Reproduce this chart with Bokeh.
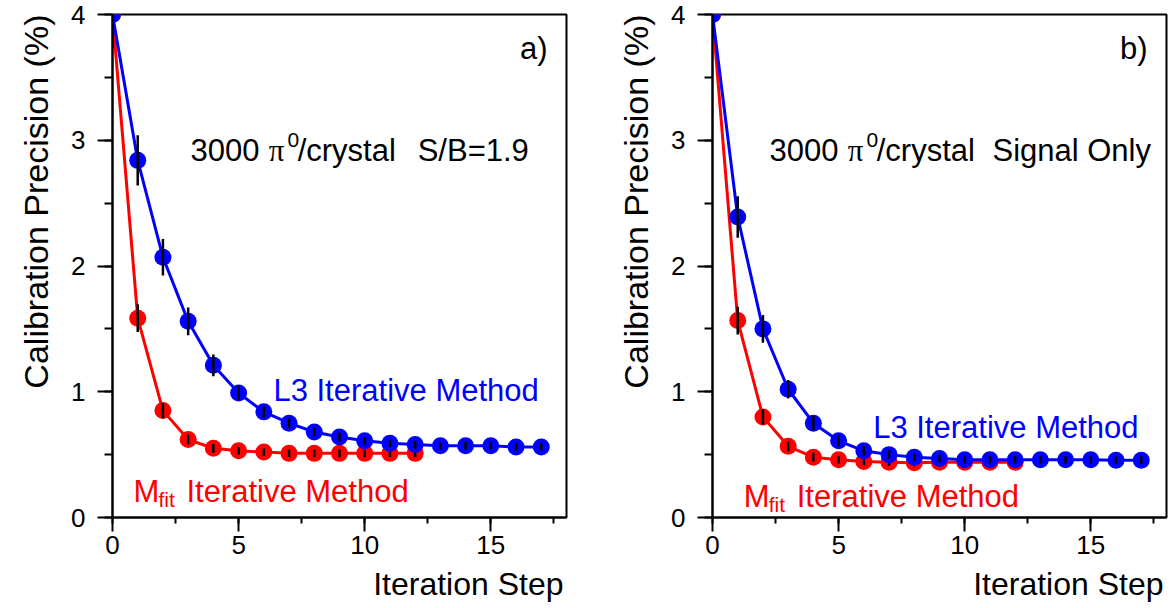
from bokeh.plotting import figure
from bokeh.models import Range1d, SingleIntervalTicker, Label, Title
from bokeh.layouts import row
from bokeh.embed import file_html
from bokeh.resources import INLINE

# ---------------- data ----------------
steps_l3 = list(range(18))
steps_mfit = list(range(13))

# panel a) 3000 pi0/crystal, S/B = 1.9
a_l3 = [4.00, 2.84, 2.07, 1.56, 1.21, 0.99, 0.84, 0.75, 0.68, 0.64, 0.61, 0.59,
        0.58, 0.57, 0.57, 0.57, 0.56, 0.56]
a_l3_err = [0.27, 0.20, 0.145, 0.11, 0.087, 0.06, 0.045, 0.04, 0.035, 0.035, 0.03, 0.03,
            0.03, 0.03, 0.03, 0.03, 0.03, 0.03]
a_mfit = [4.00, 1.585, 0.85, 0.62, 0.55, 0.53, 0.52, 0.51, 0.51, 0.51, 0.51, 0.51, 0.51]
a_mfit_err = [0.0, 0.11, 0.06, 0.04, 0.035, 0.03, 0.03, 0.03, 0.03, 0.03, 0.03, 0.03, 0.03]

# panel b) 3000 pi0/crystal, signal only
b_l3 = [4.00, 2.39, 1.50, 1.02, 0.75, 0.61, 0.53, 0.50, 0.48, 0.47, 0.46, 0.46,
        0.46, 0.46, 0.46, 0.46, 0.455, 0.455]
b_l3_err = [0.18, 0.165, 0.11, 0.073, 0.055, 0.045, 0.04, 0.035, 0.03, 0.03, 0.03, 0.03,
            0.03, 0.03, 0.03, 0.03, 0.03, 0.03]
b_mfit = [4.00, 1.566, 0.80, 0.566, 0.48, 0.46, 0.445, 0.44, 0.435, 0.44, 0.44, 0.44, 0.44]
b_mfit_err = [0.0, 0.11, 0.06, 0.04, 0.035, 0.03, 0.03, 0.03, 0.03, 0.03, 0.03, 0.03, 0.03]

x_ticks_interval = 5
y_ticks_interval = 1
x_title = "Iteration Step"
y_title = "Calibration Precision (%)"
l3_name = "L3 Iterative Method"
mfit_main, mfit_sub, mfit_rest = "M", "fit", "Iterative Method"

FONT = "Liberation Sans"
BLUE = "#0000ff"
RED = "#ff0000"


def lab(p, x, y, text, size, color="black", align="left", baseline="alphabetic", font=FONT):
    p.add_layout(Label(x=x, y=y, text=text, text_font=font, text_font_size=size,
                       text_color=color, text_align=align, text_baseline=baseline))


def panel(l3, l3e, mf, mfe, info, tag, width, border_right, pos):
    p = figure(width=width, height=608, x_range=Range1d(0, 18), y_range=Range1d(0, 4),
               output_backend="svg", toolbar_location=None,
               min_border_left=112, min_border_right=border_right,
               min_border_top=14, min_border_bottom=90)
    p.background_fill_color = "white"
    p.border_fill_color = "white"
    p.outline_line_color = "black"
    p.outline_line_width = 2
    p.xgrid.visible = False
    p.ygrid.visible = False

    p.xaxis.ticker = SingleIntervalTicker(interval=x_ticks_interval, num_minor_ticks=2)
    p.yaxis.ticker = SingleIntervalTicker(interval=y_ticks_interval, num_minor_ticks=2)
    for ax in (p.xaxis, p.yaxis):
        ax.axis_line_width = 2
        ax.axis_line_color = "black"
        ax.major_tick_line_width = 2
        ax.minor_tick_line_width = 2
        ax.major_tick_line_color = "black"
        ax.minor_tick_line_color = "black"
        ax.major_tick_in = 0
        ax.minor_tick_in = 0
        ax.major_label_text_font = FONT
        ax.major_label_text_font_size = "26px"
        ax.major_label_text_color = "black"
    p.xaxis.major_tick_out = 14
    p.xaxis.minor_tick_out = 6
    p.xaxis.major_label_standoff = 4
    p.yaxis.major_tick_out = 15
    p.yaxis.minor_tick_out = 8
    p.yaxis.major_label_standoff = 12

    # axis titles
    p.add_layout(Title(text=x_title, align="right", text_font=FONT, text_font_size="32px",
                       text_font_style="normal", text_color="black", standoff=14,
                       offset=3), "below")
    p.add_layout(Title(text=y_title, align="right", text_font=FONT, text_font_size="34px",
                       text_font_style="normal", text_color="black", standoff=27,
                       offset=0), "left")

    # M_fit series (drawn first, underneath)
    p.line(steps_mfit, mf, line_color=RED, line_width=3)
    p.scatter(steps_mfit, mf, size=17, fill_color=RED, line_color=None, marker="circle")
    p.segment(x0=steps_mfit, y0=[v - e for v, e in zip(mf, mfe)],
              x1=steps_mfit, y1=[v + e for v, e in zip(mf, mfe)],
              line_color="black", line_width=2.5)
    # L3 series
    p.line(steps_l3, l3, line_color=BLUE, line_width=3)
    p.scatter(steps_l3, l3, size=17, fill_color=BLUE, line_color=None, marker="circle")
    p.segment(x0=steps_l3, y0=[v - e for v, e in zip(l3, l3e)],
              x1=steps_l3, y1=[v + e for v, e in zip(l3, l3e)],
              line_color="black", line_width=2.5)

    # annotations
    x0 = pos["info_x"]
    lab(p, x0, 2.92, "3000", "31px")
    lab(p, x0 + 3.1, 2.92, "\u03c0", "31px", font="Liberation Serif")
    lab(p, x0 + 3.85, 3.0, "0", "21px")
    lab(p, x0 + 4.25, 2.92, "/crystal", "31px")
    lab(p, pos["info2_x"], 2.92, info, "31px")
    lab(p, 17.25, 3.73, tag, "31px", align="right")
    lab(p, pos["l3_x"], pos["l3_y"], l3_name, "31px", color=BLUE)
    mx, my = pos["m_x"], pos["m_y"]
    lab(p, mx, my, mfit_main, "31px", color=RED)
    lab(p, mx + 0.99, my - 0.066, mfit_sub, "21px", color=RED)
    lab(p, mx + 2.10, my, mfit_rest, "31px", color=RED)
    return p


pa = panel(a_l3, a_l3_err, a_mfit, a_mfit_err, "S/B=1.9", "a)", 600, 34,
           dict(info_x=3.09, info2_x=12.1, l3_x=6.38, l3_y=1.01, m_x=0.83, m_y=0.209))
pb = panel(b_l3, b_l3_err, b_mfit, b_mfit_err, "Signal Only", "b)", 573, 7,
           dict(info_x=2.26, info2_x=11.1, l3_x=6.37, l3_y=0.717, m_x=1.24, m_y=0.169))

layout = row(pa, pb)
open("out.html", "w").write(file_html(layout, INLINE))
